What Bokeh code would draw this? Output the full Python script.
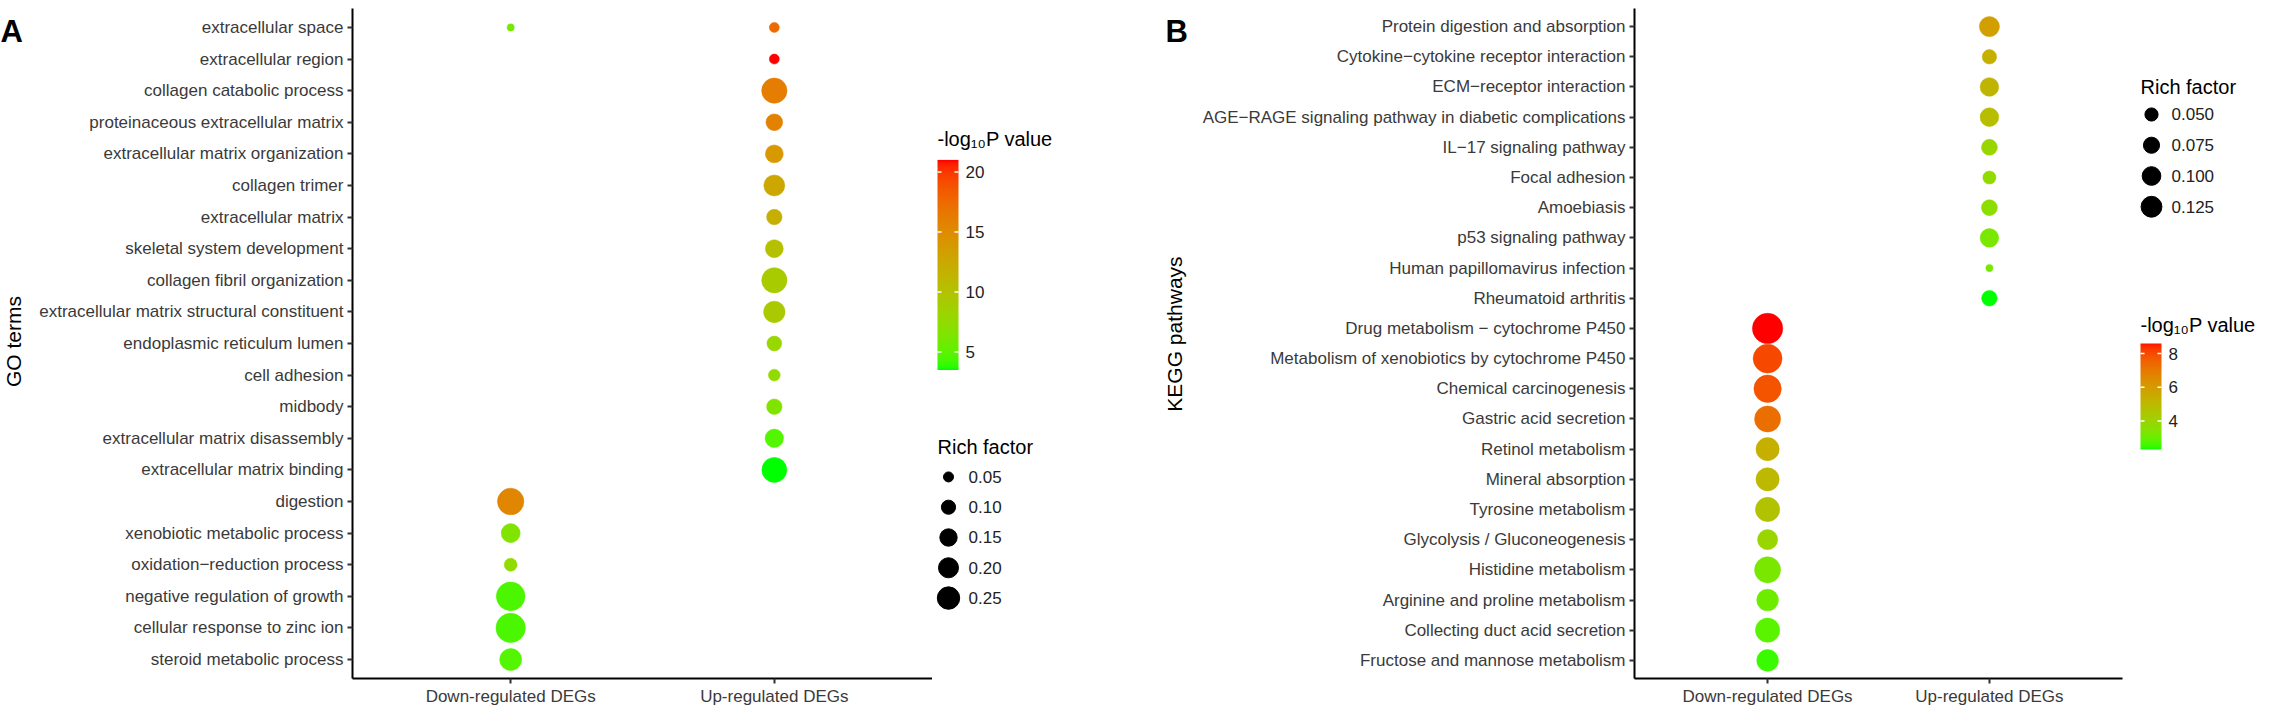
import numpy as np
from bokeh.plotting import figure
from bokeh.models import FactorRange, Range1d, LinearColorMapper, ColumnDataSource
from bokeh.layouts import row
from bokeh.transform import linear_cmap
from bokeh.core.properties import value
from bokeh.embed import file_html
from bokeh.resources import INLINE

# ---------------- data ----------------
groups = ["Down-regulated DEGs", "Up-regulated DEGs"]

go_terms = [
    "extracellular space", "extracellular region", "collagen catabolic process",
    "proteinaceous extracellular matrix", "extracellular matrix organization",
    "collagen trimer", "extracellular matrix", "skeletal system development",
    "collagen fibril organization", "extracellular matrix structural constituent",
    "endoplasmic reticulum lumen", "cell adhesion", "midbody",
    "extracellular matrix disassembly", "extracellular matrix binding", "digestion",
    "xenobiotic metabolic process", "oxidation\u2212reduction process",
    "negative regulation of growth", "cellular response to zinc ion",
    "steroid metabolic process",
]
go_point_term = [
    "extracellular space", "extracellular space", "extracellular region",
    "collagen catabolic process", "proteinaceous extracellular matrix",
    "extracellular matrix organization", "collagen trimer", "extracellular matrix",
    "skeletal system development", "collagen fibril organization",
    "extracellular matrix structural constituent", "endoplasmic reticulum lumen",
    "cell adhesion", "midbody", "extracellular matrix disassembly",
    "extracellular matrix binding", "digestion", "xenobiotic metabolic process",
    "oxidation\u2212reduction process", "negative regulation of growth",
    "cellular response to zinc ion", "steroid metabolic process",
]
go_point_group = ["Down-regulated DEGs"] + ["Up-regulated DEGs"] * 15 + ["Down-regulated DEGs"] * 6
go_logp = [6.0, 17.5, 21.0, 16.1, 15.8, 14.0, 12.6, 11.9, 10.2, 9.1, 9.3, 7.9, 7.4, 6.5,
           4.7, 3.5, 15.4, 6.5, 7.4, 4.5, 4.4, 4.7]
go_rich = [0.026, 0.05, 0.05, 0.32, 0.14, 0.16, 0.22, 0.12, 0.16, 0.32, 0.23, 0.11, 0.07,
           0.12, 0.17, 0.31, 0.35, 0.18, 0.084, 0.41, 0.43, 0.24]
go_logp_breaks = [5, 10, 15, 20]
go_rich_breaks = [0.05, 0.10, 0.15, 0.20, 0.25]
go_rich_labels = ["0.05", "0.10", "0.15", "0.20", "0.25"]

kegg_terms = [
    "Protein digestion and absorption", "Cytokine\u2212cytokine receptor interaction",
    "ECM\u2212receptor interaction",
    "AGE\u2212RAGE signaling pathway in diabetic complications",
    "IL\u221217 signaling pathway", "Focal adhesion", "Amoebiasis",
    "p53 signaling pathway", "Human papillomavirus infection", "Rheumatoid arthritis",
    "Drug metabolism \u2212 cytochrome P450",
    "Metabolism of xenobiotics by cytochrome P450", "Chemical carcinogenesis",
    "Gastric acid secretion", "Retinol metabolism", "Mineral absorption",
    "Tyrosine metabolism", "Glycolysis / Gluconeogenesis", "Histidine metabolism",
    "Arginine and proline metabolism", "Collecting duct acid secretion",
    "Fructose and mannose metabolism",
]
kegg_point_group = ["Up-regulated DEGs"] * 10 + ["Down-regulated DEGs"] * 12
kegg_logp = [5.8, 5.3, 5.1, 4.8, 3.9, 3.75, 3.6, 3.25, 3.2, 2.3,
             8.6, 8.0, 7.8, 7.2, 5.3, 5.0, 4.6, 3.9, 3.25, 3.05, 2.8, 2.5]
kegg_rich = [0.117, 0.06, 0.10, 0.10, 0.073, 0.05, 0.073, 0.10, 0.015, 0.07,
             0.265, 0.24, 0.215, 0.195, 0.155, 0.155, 0.17, 0.117, 0.195, 0.135, 0.17, 0.135]
kegg_logp_breaks = [4, 6, 8]
kegg_rich_breaks = [0.050, 0.075, 0.100, 0.125]
kegg_rich_labels = ["0.050", "0.075", "0.100", "0.125"]

# ---------------- colour scale (green -> red, interpolated in CIELAB) ----------------
def _hex2rgb(h):
    h = h.lstrip("#")
    return [int(h[i:i + 2], 16) / 255 for i in (0, 2, 4)]

_M = np.array([[0.4124564, 0.3575761, 0.1804375],
               [0.2126729, 0.7151522, 0.0721750],
               [0.0193339, 0.1191920, 0.9503041]])
_W = np.array([0.95047, 1.0, 1.08883])
_d = 6 / 29

def _to_lab(h):
    c = np.array(_hex2rgb(h))
    lin = np.where(c <= 0.04045, c / 12.92, ((c + 0.055) / 1.055) ** 2.4)
    xyz = _M @ lin / _W
    f = np.where(xyz > _d ** 3, np.cbrt(xyz), xyz / (3 * _d ** 2) + 4 / 29)
    return np.array([116 * f[1] - 16, 500 * (f[0] - f[1]), 200 * (f[1] - f[2])])

def _from_lab(lab):
    L, a, b = lab
    fy = (L + 16) / 116
    f = np.array([fy + a / 500, fy, fy - b / 200])
    xyz = np.where(f > _d, f ** 3, 3 * _d ** 2 * (f - 4 / 29)) * _W
    lin = np.clip(np.linalg.inv(_M) @ xyz, 0, 1)
    c = np.where(lin <= 0.0031308, 12.92 * lin, 1.055 * lin ** (1 / 2.4) - 0.055)
    c = np.clip(np.round(c * 255), 0, 255).astype(int)
    return "#%02x%02x%02x" % tuple(c)

_lo, _hi = _to_lab("#00ff00"), _to_lab("#ff0000")
palette = [_from_lab(_lo + (_hi - _lo) * t) for t in np.linspace(0, 1, 256)]

FONT = value("Liberation Sans")
H = 708
Y = lambda yy: H + 8 - yy   # page y (from top) -> data y in the plain figures


def plain_fig(width):
    p = figure(width=width, height=H, output_backend="svg", toolbar_location=None,
               x_range=Range1d(0, width), y_range=Range1d(0, H),
               x_axis_type=None, y_axis_type=None, min_border=0)
    p.grid.visible = False
    p.outline_line_color = None
    return p


def style_axes(p):
    p.xgrid.visible = False
    p.ygrid.visible = False
    p.outline_line_color = None
    for ax in (p.xaxis[0], p.yaxis[0]):
        ax.axis_line_width = 2
        ax.axis_line_color = "black"
        ax.major_tick_line_width = 2
        ax.major_tick_line_color = "#333333"
        ax.major_tick_out = 5
        ax.major_tick_in = 0
        ax.minor_tick_line_color = None
        ax.major_label_text_font = "Liberation Sans"
        ax.major_label_text_font_size = "17px"
        ax.major_label_text_color = "#3a3a3a"
    p.xaxis[0].major_label_standoff = 3
    p.yaxis[0].major_label_standoff = 4


def bubble_panel(width, border_left, border_top, border_right, terms, pt_terms,
                 pt_groups, logp, rich, k):
    p = figure(width=width, height=H, output_backend="svg", toolbar_location=None,
               x_range=FactorRange(factors=groups, range_padding=0.1,
                                   range_padding_units="absolute"),
               y_range=FactorRange(factors=list(reversed(terms)), range_padding=0.1,
                                   range_padding_units="absolute"),
               min_border_left=border_left, min_border_right=border_right,
               min_border_top=border_top, min_border_bottom=0)
    src = ColumnDataSource(dict(term=pt_terms, group=pt_groups, logp=logp, rich=rich,
                                size=[k * np.sqrt(r) for r in rich]))
    cmap = linear_cmap("logp", palette, min(logp), max(logp))
    p.scatter(x="group", y="term", size="size", source=src,
              fill_color=cmap, line_color=cmap, line_width=0.5)
    style_axes(p)
    return p


def letter_fig(width, letter, lx, title, tx, ty):
    p = plain_fig(width)
    p.text(x=[lx], y=[Y(32)], text=[letter], text_font=FONT, text_font_size="31px",
           text_font_style="bold", text_color="black",
           text_baseline="alphabetic", text_align="left")
    p.text(x=[tx], y=[Y(ty)], text=[title], angle=np.pi / 2, text_font=FONT,
           text_font_size="21px", text_color="black",
           text_baseline="middle", text_align="center")
    return p


def draw_colorbar(p, vmin, vmax, breaks, x0, ytop, ybot, title_y):
    mapper = LinearColorMapper(palette=palette, low=vmin, high=vmax)
    grad = np.linspace(vmin, vmax, 256).reshape(256, 1)
    p.image(image=[grad], x=x0, y=Y(ybot), dw=21, dh=ybot - ytop, color_mapper=mapper)
    ys = [Y(ybot) + (b - vmin) / (vmax - vmin) * (ybot - ytop) for b in breaks]
    p.segment(x0=[x0] * len(ys), x1=[x0 + 4] * len(ys), y0=ys, y1=ys,
              line_color="white", line_width=1.5)
    p.segment(x0=[x0 + 17] * len(ys), x1=[x0 + 21] * len(ys), y0=ys, y1=ys,
              line_color="white", line_width=1.5)
    p.text(x=[x0 + 28] * len(ys), y=ys, text=[str(b) for b in breaks],
           text_font=FONT, text_font_size="17px", text_color="#222222",
           text_baseline="middle", text_align="left")
    p.text(x=[x0], y=[Y(title_y)], text=["-log\u2081\u2080P value"],
           text_font=FONT, text_font_size="20px", text_color="black",
           text_baseline="middle", text_align="left")


def draw_sizes(p, breaks, labels, k, x0, y_first, step, title_y):
    ys = [Y(y_first + i * step) for i in range(len(breaks))]
    p.scatter(x=[x0 + 11] * len(ys), y=ys, size=[k * np.sqrt(b) for b in breaks],
              fill_color="black", line_color="black")
    p.text(x=[x0 + 31] * len(ys), y=ys, text=labels,
           text_font=FONT, text_font_size="17px", text_color="#222222",
           text_baseline="middle", text_align="left")
    p.text(x=[x0], y=[Y(title_y)], text=["Rich factor"],
           text_font=FONT, text_font_size="20px", text_color="black",
           text_baseline="middle", text_align="left")


# ---------------- panel A ----------------
KA = 44.8
tA = letter_fig(36, "A", 0, "GO terms", 13, 360)
pA = bubble_panel(896, 309, 8, 0, go_terms, go_point_term, go_point_group, go_logp,
                  go_rich, KA)
lA = plain_fig(225)
draw_colorbar(lA, min(go_logp), max(go_logp), go_logp_breaks, 5, 168, 390, 146)
draw_sizes(lA, go_rich_breaks, go_rich_labels, KA, 5, 503, 32, 471)

# ---------------- panel B ----------------
KB = 59.0
tB = letter_fig(35, "B", 8, "KEGG pathways", 17, 352)
pB = bubble_panel(935, 442, 0, 5, kegg_terms, kegg_terms, kegg_point_group, kegg_logp,
                  kegg_rich, KB)
lB = plain_fig(138)
draw_sizes(lB, kegg_rich_breaks, kegg_rich_labels, KB, 13, 120, 32.5, 91)
draw_colorbar(lB, min(kegg_logp), max(kegg_logp), kegg_logp_breaks, 13, 362, 474, 342)

layout = row(tA, pA, lA, tB, pB, lB)
open("out.html", "w").write(file_html(layout, INLINE))
